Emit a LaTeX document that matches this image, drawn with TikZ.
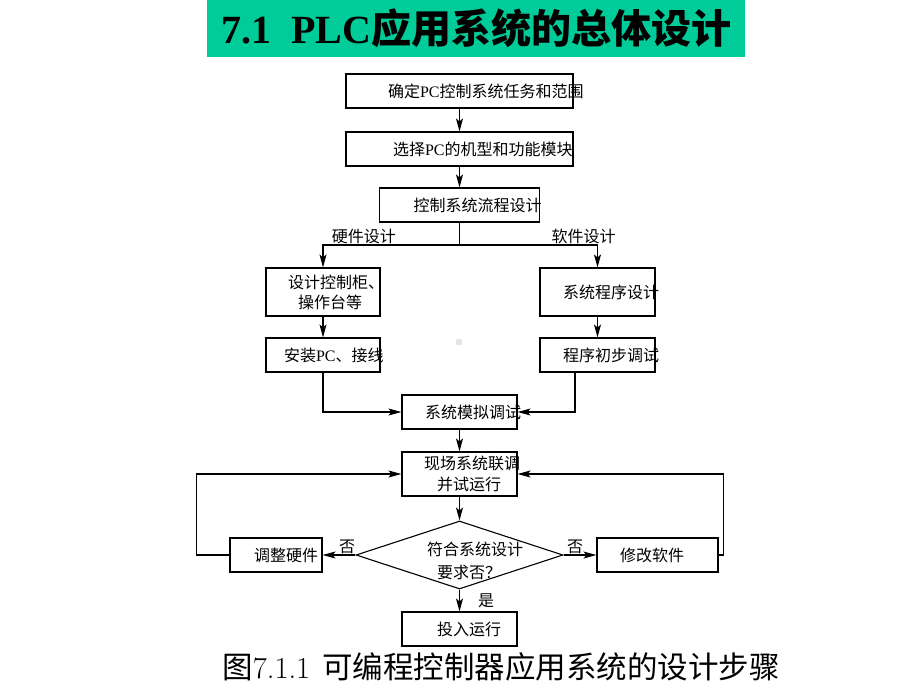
\documentclass[tikz,border=0pt]{standalone}
\usepackage{fontspec}
\newfontfamily\cjk{Noto Sans CJK SC}
\newfontfamily\tms{Liberation Serif}
\usepackage{tikz}
\usetikzlibrary{arrows.meta,shapes.geometric}
\usepackage{xcolor}
\definecolor{titlegreen}{RGB}{0,204,153}
\newcommand{\pcname}{{\tms PC}}

\begin{document}
\begin{tikzpicture}[->,>={Stealth[length=13pt,width=7pt,inset=3pt]},x=1pt,y=-1pt,line width=1.1pt]
  \tikzstyle{block}=[draw,rectangle,inner sep=0pt,align=left,minimum height=34pt,
                     font=\cjk\fontsize{16}{20}\selectfont]
  \tikzstyle{decision}=[draw,diamond,minimum width=207pt,minimum height=68pt,inner sep=0pt]
  \tikzstyle{note}=[font=\cjk\fontsize{16}{20}\selectfont,inner sep=1pt]
  \tikzstyle{headline}=[fill=titlegreen,minimum width=538pt,minimum height=57pt,inner sep=0pt,
                        font=\cjk\bfseries\fontsize{40}{44}\selectfont]
  \tikzstyle{figcap}=[inner sep=0pt,font=\cjk\fontsize{30.5}{32}\selectfont]

  \useasboundingbox (0,0) rectangle (920,690);

  \node[headline] (title) at (476,28.5)
        {\raisebox{-4pt}{{\tms\bfseries 7.1\hspace{20pt}PLC}应用系统的总体设计}};

  \node[block,text width=227pt] (confirm) at (459.5,91)  {\hspace*{42pt}确定\pcname 控制系统任务和范围};
  \node[block,text width=227pt] (select)  at (459.5,149) {\hspace*{47pt}选择\pcname 的机型和功能模块};
  \node[block,text width=160pt] (flow)    at (459.5,205) {\hspace*{34pt}控制系统流程设计};

  \node[block,text width=114pt,minimum height=48pt] (cabinet)    at (323,292)
        {\hspace*{22pt}设计控制柜、\\\hspace*{32pt}操作台等};
  \node[block,text width=115pt,minimum height=48pt] (progdesign) at (597.5,292)
        {\hspace*{23pt}系统程序设计};
  \node[block,text width=114pt] (install)  at (323,355)   {\hspace*{18pt}安装\pcname 、接线};
  \node[block,text width=115pt] (progtest) at (597.5,355) {\hspace*{23pt}程序初步调试};

  \node[block,text width=115pt] (simulate) at (459.5,412) {\hspace*{23pt}系统模拟调试};
  \node[block,text width=115pt,minimum height=44pt,font=\cjk\fontsize{16}{21}\selectfont] (field)
        at (459.5,474) {\hspace*{22pt}现场系统联调\\\hspace*{35pt}并试运行};

  \node[decision] (check) at (459.5,555)
        [label={[note,align=left,xshift=15.5pt,yshift=-6pt,font=\cjk\fontsize{16}{23}\selectfont]center:符合系统设计\\\hspace*{10pt}要求否？}] {};
  \node[block,text width=92pt]  (hardfix) at (276,555)   {\hspace*{24pt}调整硬件};
  \node[block,text width=121pt] (softfix) at (657.5,555) {\hspace*{23pt}修改软件};
  \node[block,text width=115pt] (run)     at (459.5,629) {\hspace*{35pt}投入运行};

  \node[figcap] (caption) at (501,667) {图{\normalfont 7.1.1}\hspace{12pt}可编程控制器应用系统的设计步骤};

  \coordinate (fork) at (459.5,245);

  % main column
  \draw (confirm) -- (select);
  \draw (select) -- (flow);
  \draw (flow.south) -- (fork) -| node[note,above,pos=0.35] {硬件设计} (cabinet.north);
  \draw (fork) -| node[note,above,pos=0.45] {软件设计} (progdesign.north);
  \draw (cabinet) -- (install);
  \draw (progdesign) -- (progtest);
  \draw (install.south) |- (simulate.west);
  \draw ([xshift=-22.5pt]progtest.south) |- (simulate.east);
  \draw (simulate) -- (field);
  \draw (field) -- (check.north);

  % checking loop
  \draw (check.west) -- node[note,above,pos=0.25] {否} (hardfix.east);
  \draw (check.east) -- node[note,above,pos=0.35] {否} (softfix.west);
  \draw (hardfix.west) -- ++(-33,0) |- (field.west);
  \draw (softfix.east) -- ++(5,0) |- (field.east);
  \draw (check.south) -- node[note,right=17pt] {是} (run.north);

  \fill[-,black!10] (456,339) rectangle (462,345);
\end{tikzpicture}
\end{document}
